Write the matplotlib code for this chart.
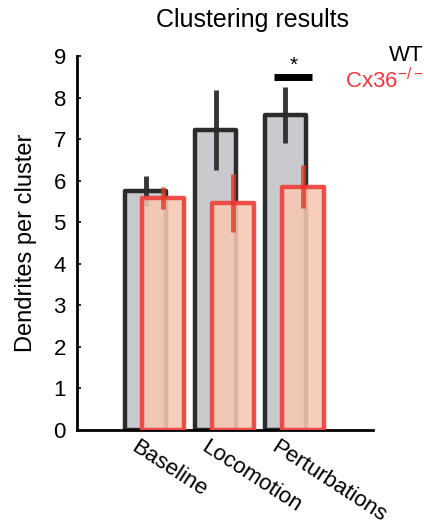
import matplotlib
matplotlib.use("Agg")
import matplotlib.pyplot as plt
import numpy as np

plt.rcParams["font.family"] = ["Liberation Sans", "DejaVu Sans"]

conditions = ["Baseline", "Locomotion", "Perturbations"]
wt_mean = [5.75, 7.22, 7.58]
wt_err = [0.37, 0.97, 0.68]
ko_mean = [5.58, 5.47, 5.85]
ko_err = [0.26, 0.70, 0.52]

x = np.arange(len(conditions))
offset = 0.25
width = 0.59

fig = plt.figure(figsize=(4.24, 5.30), dpi=100)
ax = fig.add_axes([0.1816, 0.1887, 0.698, 0.7057])

ax.bar(x, wt_mean, width, color="#c9cace", edgecolor="#2b2b2b",
       linewidth=3.2, joinstyle="round", zorder=2)
ax.errorbar(x, wt_mean, yerr=wt_err, fmt="none", ecolor="#2b2b2b",
            elinewidth=3.5, capsize=0, alpha=0.95, zorder=3)
ax.bar(x + offset, ko_mean, width, color=(0.97, 0.78, 0.70, 0.88),
       edgecolor=(0.93, 0.27, 0.25, 0.95), linewidth=3.2,
       joinstyle="round", zorder=4)
ax.errorbar(x + offset, ko_mean, yerr=ko_err, fmt="none", ecolor="#e8352c",
            elinewidth=3.5, capsize=0, alpha=0.8, zorder=5)

# significance marker over Perturbations WT
ax.plot([x[2] - 0.16, x[2] + 0.38], [8.5, 8.5], color="black",
        linewidth=5, solid_capstyle="butt", zorder=6)
ax.text(x[2] + 0.11, 8.55, "*", ha="center", va="bottom", fontsize=15)

ax.set_xlim(-0.98, 3.25)
ax.set_ylim(0, 9)
ax.set_yticks(range(0, 10))
ax.tick_params(axis="y", direction="in", length=3, width=1.2,
               labelsize=16, pad=8)
ax.set_xticks(x - 0.1)
ax.set_xticklabels(conditions, rotation=-33, ha="left",
                   rotation_mode="anchor", fontsize=16)
ax.tick_params(axis="x", length=0, pad=5)

for side in ("top", "right"):
    ax.spines[side].set_visible(False)
ax.spines["left"].set_linewidth(2)
ax.spines["bottom"].set_linewidth(2)

ax.set_ylabel("Dendrites per cluster", fontsize=17, labelpad=12)
fig.text(0.595, 0.962, "Clustering results", ha="center", va="center",
         fontsize=18)
fig.text(1.0, 0.896, "WT", ha="right", va="center", fontsize=16,
         color="black")
fig.text(1.0, 0.847, "Cx36$^{\\mathregular{-/-}}$", ha="right",
         va="center", fontsize=16, color="#f0363f")

fig.savefig("out.png", dpi=100)
